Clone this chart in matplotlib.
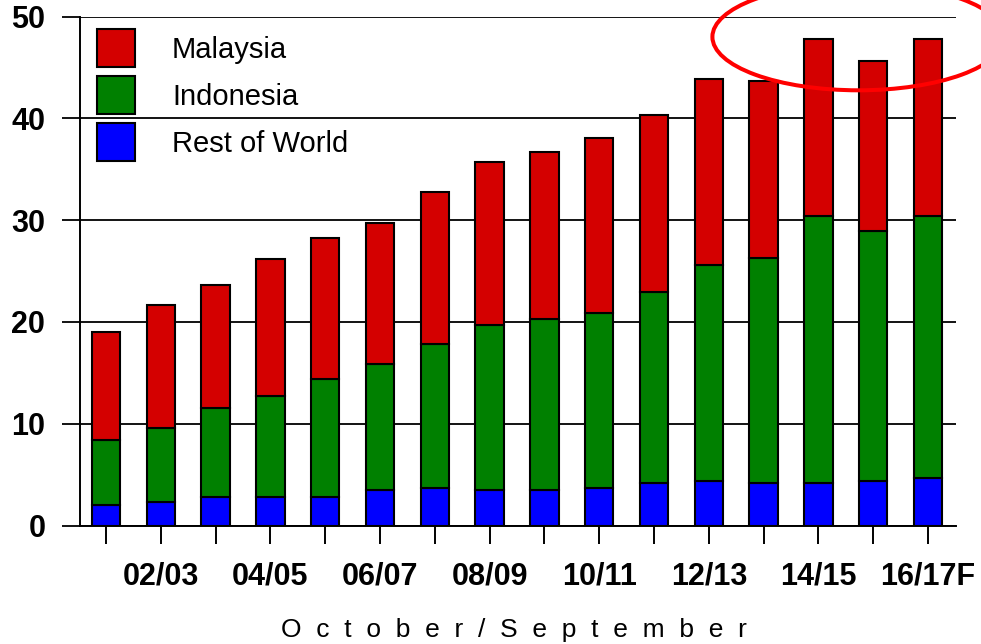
import matplotlib
matplotlib.use("Agg")
import matplotlib.pyplot as plt
from matplotlib.patches import Ellipse
import numpy as np

# Palm oil production by origin, marketing years (Oct/Sep), million tonnes
seasons = ["01/02", "02/03", "03/04", "04/05", "05/06", "06/07", "07/08", "08/09",
           "09/10", "10/11", "11/12", "12/13", "13/14", "14/15", "15/16", "16/17F"]
rest_of_world = [2.0, 2.3, 2.8, 2.8, 2.8, 3.5, 3.7, 3.5, 3.5, 3.7, 4.2, 4.4, 4.2, 4.2, 4.4, 4.7]
indonesia = [6.4, 7.3, 8.7, 9.9, 11.6, 12.4, 14.1, 16.2, 16.8, 17.2, 18.7, 21.2, 22.1, 26.2, 24.5, 25.7]
malaysia = [10.6, 12.1, 12.1, 13.5, 13.8, 13.8, 15.0, 16.0, 16.4, 17.2, 17.4, 18.3, 17.4, 17.4, 16.7, 17.4]
y_ticks = [0, 10, 20, 30, 40, 50]

plt.rcParams["font.family"] = ["Liberation Sans", "DejaVu Sans"]

fig = plt.figure(figsize=(9.81, 6.44), dpi=100)
ax = fig.add_axes([80 / 981, (644 - 525.5) / 644, 876 / 981, 509 / 644])

x = np.arange(len(seasons))
rw = np.array(rest_of_world)
ind = np.array(indonesia)
mal = np.array(malaysia)

bar_kw = dict(width=0.52, edgecolor="black", linewidth=1.5, zorder=3)
ax.bar(x, rw, color="#0000FF", label="Rest of World", **bar_kw)
ax.bar(x, ind, bottom=rw, color="#008000", label="Indonesia", **bar_kw)
ax.bar(x, mal, bottom=rw + ind, color="#D40000", label="Malaysia", **bar_kw)

ax.set_xlim(-0.475, len(seasons) - 1 + 0.51)
ax.set_ylim(0, 50)

# axes frame: left and bottom only, horizontal grid
for side in ("top", "right"):
    ax.spines[side].set_visible(False)
for side in ("left", "bottom"):
    ax.spines[side].set_linewidth(1.4)
    ax.spines[side].set_color("black")

ax.set_yticks(y_ticks)
ax.set_yticklabels([str(v) for v in y_ticks], fontsize=22, fontweight="bold")
ax.yaxis.grid(True, color="black", linewidth=1.3)
ax.set_axisbelow(True)
ax.tick_params(axis="y", direction="out", length=13, width=1.3, pad=12)

ax.set_xticks(x)
ax.set_xticklabels([s if i % 2 == 1 else "" for i, s in enumerate(seasons)],
                   fontsize=22, fontweight="bold")
ax.tick_params(axis="x", direction="out", length=13, width=1.4, pad=13)

# spaced-out axis title under the season labels
fig.text(514 / 981, 1 - 637 / 644, "  ".join("October/September"),
         fontsize=19, ha="center", va="baseline")

# legend in the top-left corner, Malaysia first
handles, labels = ax.get_legend_handles_labels()
order = [2, 1, 0]
ax.legend([handles[i] for i in order], [labels[i] for i in order],
          loc="upper left", bbox_to_anchor=((97 - 80) / 876, (525.5 - 29) / 509),
          frameon=False, fontsize=21, borderpad=0, borderaxespad=0,
          handlelength=1.30, handleheight=1.63, handletextpad=1.27,
          labelspacing=0.31)

# highlight ring around the latest seasons
ax.add_patch(Ellipse((13.73, 48.0), width=5.33, height=10.5, fill=False,
                     edgecolor="#FF0000", linewidth=2.9, clip_on=False, zorder=5))

fig.savefig("out.png", dpi=100)
